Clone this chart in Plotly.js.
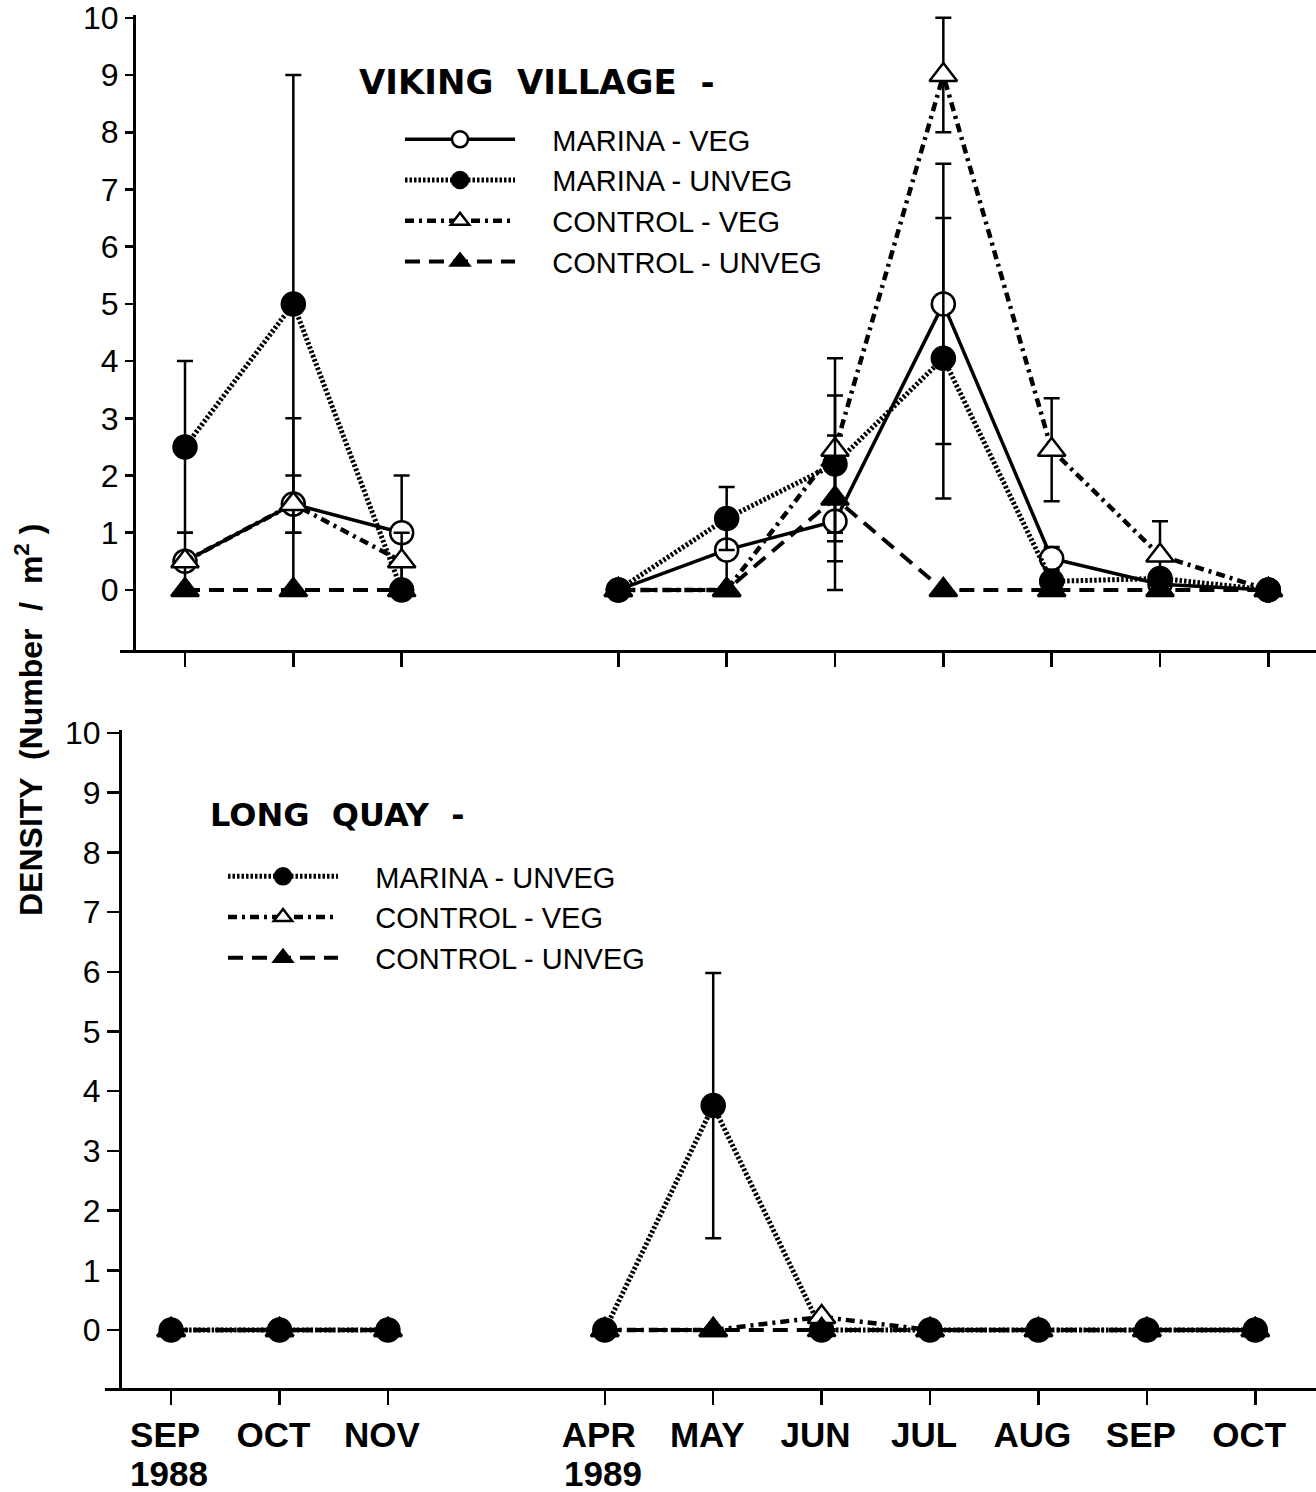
<!DOCTYPE html>
<html>
<head>
<meta charset="utf-8">
<script src="https://cdn.plot.ly/plotly-3.0.1.min.js"></script>
<style>html,body{margin:0;padding:0;background:#fff;}#chart{width:1316px;height:1492px;}</style>
</head>
<body>
<div id="chart"></div>
<script>
// Month positions (Dec–Mar break compressed into one empty slot)
const monthPos = [0, 1, 2, 4, 5, 6, 7, 8, 9, 10];
const monthLabels = ['SEP', 'OCT', 'NOV', 'APR', 'MAY', 'JUN', 'JUL', 'AUG', 'SEP', 'OCT'];
const yearLabels = ['1988', '1989'];
const yearPos = [0, 4];
const yTicks = [0, 1, 2, 3, 4, 5, 6, 7, 8, 9, 10];

// VIKING VILLAGE
const vvMarinaVeg      = [0.5, 1.5, 1.0, 0, 0.7, 1.2, 5.0, 0.55, 0.1, 0];
const vvMarinaVegErr   = [null, 0.5, 1.0, null, 0.7, 1.2, 2.45, 0.2, null, null];
const vvMarinaUnveg    = [2.5, 5.0, 0, 0, 1.25, 2.2, 4.05, 0.15, 0.2, 0];
const vvMarinaUnvegErr = [1.5, 4.0, null, null, 0.55, 1.2, 2.45, null, null, null];
const vvControlVeg     = [0.5, 1.5, 0.5, 0, 0, 2.45, 9.0, 2.45, 0.6, 0];
const vvControlVegErr  = [0.5, 1.5, 0.5, null, null, 1.6, 1.0, 0.9, 0.6, null];
const vvControlUnveg   = [0, 0, 0, 0, 0, 1.6, 0, 0, 0, 0];
const vvControlUnvegErr= [null, null, null, null, null, 1.1, null, null, null, null];

// LONG QUAY
const lqMarinaUnveg    = [0, 0, 0, 0, 3.76, 0, 0, 0, 0, 0];
const lqMarinaUnvegErr = [null, null, null, null, 2.22, null, null, null, null, null];
const lqControlVeg     = [0, 0, 0, 0, 0, 0.22, 0, 0, 0, 0];
const lqControlUnveg   = [0, 0, 0, 0, 0, 0, 0, 0, 0, 0];

// insert a break between NOV 1988 and APR 1989
function withBreak(arr, isX) {
  const out = arr.slice(0, 3);
  out.push(isX ? 3 : null);
  return out.concat(arr.slice(3));
}
const X = withBreak(monthPos, true);
const PAD = '\u00a0\u00a0\u00a0\u00a0';

const styles = {
  marinaVeg:    {dash: 'solid', width: 3.5, symbol: 'circle', fill: '#ffffff'},
  marinaUnveg:  {dash: '2.5px,2px', width: 5, symbol: 'circle', fill: '#000000'},
  controlVeg:   {dash: '9px,5px,3px,5px', width: 4.5, symbol: 'triangle-up', fill: '#ffffff'},
  controlUnveg: {dash: '15px,9px', width: 4, symbol: 'triangle-up', fill: '#000000'}
};

function mk(name, y, err, st, xa, ya, legend) {
  const t = {
    type: 'scatter', mode: 'lines+markers', name: PAD + name,
    x: X, y: withBreak(y, false), connectgaps: false,
    xaxis: xa, yaxis: ya, legend: legend,
    line: {color: '#000', width: st.width, dash: st.dash},
    marker: {symbol: st.symbol, size: st.symbol === 'circle' ? 23 : 24, color: st.fill,
             line: {color: '#000', width: 2.5}},
    cliponaxis: false
  };
  if (err) {
    t.error_y = {type: 'data', array: withBreak(err, false), visible: true,
                 color: '#000', thickness: 2.5, width: 8};
  }
  return t;
}

const data = [
  mk('MARINA - VEG', vvMarinaVeg, vvMarinaVegErr, styles.marinaVeg, 'x', 'y', 'legend'),
  mk('MARINA - UNVEG', vvMarinaUnveg, vvMarinaUnvegErr, styles.marinaUnveg, 'x', 'y', 'legend'),
  mk('CONTROL - VEG', vvControlVeg, vvControlVegErr, styles.controlVeg, 'x', 'y', 'legend'),
  mk('CONTROL - UNVEG', vvControlUnveg, vvControlUnvegErr, styles.controlUnveg, 'x', 'y', 'legend'),
  mk('MARINA - UNVEG', lqMarinaUnveg, lqMarinaUnvegErr, styles.marinaUnveg, 'x2', 'y2', 'legend2'),
  mk('CONTROL - VEG', lqControlVeg, null, styles.controlVeg, 'x2', 'y2', 'legend2'),
  mk('CONTROL - UNVEG', lqControlUnveg, null, styles.controlUnveg, 'x2', 'y2', 'legend2')
];

const W = 1316, H = 1492;
const tickFontY = {family: 'Liberation Sans, Arial, sans-serif', size: 32, color: '#000'};
const legFont = {family: 'Liberation Sans, Arial, sans-serif', size: 29, color: '#000'};
const monthFont = {family: 'Liberation Sans, Arial, sans-serif', size: 35, weight: 'bold', color: '#000'};

const xCommon = {
  showline: true, linecolor: '#000', linewidth: 3,
  ticks: 'outside', ticklen: 14, tickwidth: 2.5, tickcolor: '#000',
  tickmode: 'array', tickvals: monthPos,
  showgrid: false, zeroline: false, fixedrange: true
};
const yCommon = {
  showline: true, linecolor: '#000', linewidth: 3,
  ticks: 'outside', tickwidth: 2.5, tickcolor: '#000',
  tickmode: 'array', tickvals: yTicks, tickfont: tickFontY,
  showgrid: false, zeroline: false, fixedrange: true
};

const annotations = [
  {text: 'VIKING  VILLAGE  -', xref: 'paper', yref: 'paper', x: 357 / W, y: 1 - 82 / H,
   xanchor: 'left', yanchor: 'middle', showarrow: false,
   font: {family: 'DejaVu Sans, sans-serif', size: 34, weight: 'bold', color: '#000'}},
  {text: 'LONG  QUAY  -', xref: 'paper', yref: 'paper', x: 208 / W, y: 1 - 815 / H,
   xanchor: 'left', yanchor: 'middle', showarrow: false,
   font: {family: 'DejaVu Sans, sans-serif', size: 32, weight: 'bold', color: '#000'}},
  {text: 'DENSITY  (Number  /  m<sup>2</sup> )', xref: 'paper', yref: 'paper',
   x: 29 / W, y: 1 - 720 / H, xanchor: 'center', yanchor: 'middle', textangle: -90,
   showarrow: false,
   font: {family: 'Liberation Sans, Arial, sans-serif', size: 32, weight: 'bold', color: '#000'}}
];
yearLabels.forEach(function (t, i) {
  annotations.push({text: t, xref: 'x2', yref: 'paper', x: yearPos[i], y: 1 - 1473 / H,
    xanchor: 'center', yanchor: 'middle', showarrow: false, xshift: -2, font: monthFont});
});

const layout = {
  width: W, height: H,
  margin: {l: 0, r: 0, t: 0, b: 0},
  paper_bgcolor: '#fff', plot_bgcolor: 'rgba(0,0,0,0)',
  xaxis: Object.assign({}, xCommon, {
    domain: [120 / W, 1], range: [-0.6, 10.44], anchor: 'y', showticklabels: false
  }),
  yaxis: Object.assign({}, yCommon, {
    domain: [1 - 650 / H, 1 - 15 / H], range: [-1.05, 10.05],
    anchor: 'free', position: 134 / W, ticklen: 8
  }),
  xaxis2: Object.assign({}, xCommon, {
    domain: [105 / W, 1], range: [-0.61, 10.56], anchor: 'y2',
    ticktext: monthLabels, tickfont: monthFont, ticklabelshift: -6
  }),
  yaxis2: Object.assign({}, yCommon, {
    domain: [1 - 1388 / H, 1 - 730 / H], range: [-0.97, 10.05],
    anchor: 'free', position: 120 / W, ticklen: 12
  }),
  legend: {
    x: 400 / W, y: 1 - 114 / H, xanchor: 'left', yanchor: 'top',
    font: legFont, bgcolor: 'rgba(0,0,0,0)', itemwidth: 110,
    traceorder: 'normal', tracegroupgap: 0
  },
  legend2: {
    x: 223 / W, y: 1 - 851 / H, xanchor: 'left', yanchor: 'top',
    font: legFont, bgcolor: 'rgba(0,0,0,0)', itemwidth: 110,
    traceorder: 'normal', tracegroupgap: 0
  },
  showlegend: true,
  annotations: annotations
};

Plotly.newPlot('chart', data, layout, {staticPlot: true, displayModeBar: false});
</script>
</body>
</html>
